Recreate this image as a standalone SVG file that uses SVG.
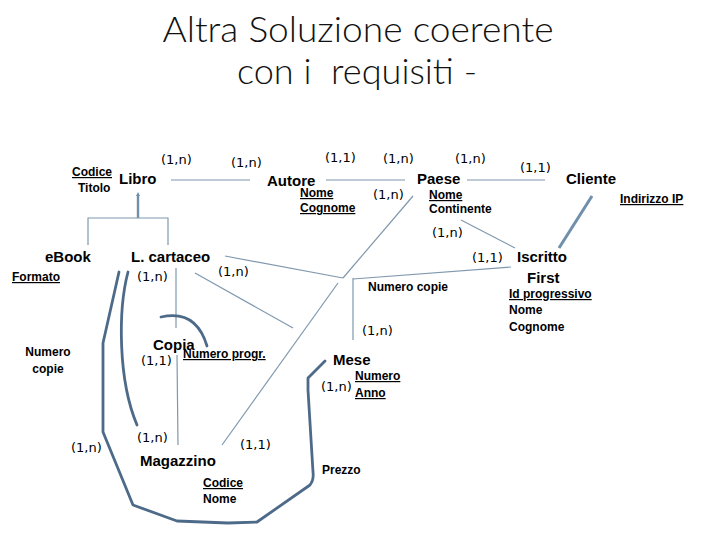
<svg xmlns="http://www.w3.org/2000/svg" width="720" height="540" viewBox="0 0 720 540">
<defs>
<style>
.title{font-family:"Lato","Open Sans","Liberation Sans",sans-serif;font-weight:300;font-size:36px;fill:#111;text-anchor:middle;white-space:pre}
.ent{font-family:"Liberation Sans",Arial,sans-serif;font-size:15px;font-weight:bold;fill:#000}
.att{font-family:"Liberation Sans",Arial,sans-serif;font-size:12px;font-weight:bold;fill:#000}
.u{text-decoration:underline}
.card{font-family:"DejaVu Sans",sans-serif;font-size:13px;fill:#000}
.thin{fill:none;stroke:#7f98ae;stroke-width:1.2}
.thick{fill:none;stroke:#4d6a88;stroke-width:2.8;stroke-linecap:round;stroke-linejoin:round}
</style>
<marker id="arr" markerWidth="4" markerHeight="4" refX="1" refY="2" orient="auto" markerUnits="userSpaceOnUse">
<path d="M0,0 L4,2 L0,4 z" fill="#6f8fab"/>
</marker>
</defs>
<rect width="720" height="540" fill="#fff"/>
<text class="title" x="358" y="42" textLength="391" lengthAdjust="spacingAndGlyphs">Altra Soluzione coerente</text>
<text class="title" x="357" y="84" xml:space="preserve" textLength="240" lengthAdjust="spacingAndGlyphs">con i  requisiti -</text>

<g id="connectors">
<line class="thin" x1="171" y1="180" x2="250" y2="180"/>
<line class="thin" x1="326" y1="180" x2="405" y2="180"/>
<line class="thin" x1="467" y1="180" x2="545" y2="180"/>
<path d="M138,218 L138,195" fill="none" stroke="#6f8fab" stroke-width="2.4" marker-end="url(#arr)"/>
<path class="thin" d="M88,245 L88,218 L168,218 L168,245"/>
<line x1="592" y1="196" x2="559" y2="248" stroke="#6f8fab" stroke-width="3"/>
<line class="thin" x1="461" y1="220" x2="515" y2="248"/>
<line class="thin" x1="511" y1="267" x2="353" y2="279"/>
<line class="thin" x1="225" y1="256" x2="343" y2="278"/>
<line class="thin" x1="413" y1="196" x2="343" y2="278"/>
<line class="thin" x1="353" y1="278" x2="353" y2="340"/>
<line class="thin" x1="338" y1="283" x2="222" y2="445"/>
<line class="thin" x1="195" y1="273" x2="293" y2="328"/>
<line class="thin" x1="176" y1="268" x2="176" y2="328"/>
<line class="thin" x1="177" y1="355" x2="178" y2="445"/>
<path class="thick" d="M161,317 Q196,309 207,346"/>
<path class="thick" d="M119,272 L103,343 L103,432 L133,505 L177,521 L228,523 L257,522 L310,485 Q314,480 313,472 L308,390 L308,378 L325,361"/>
<path class="thick" d="M128,272 C118,310 118,380 137,425"/>
</g>

<g id="libro">
<text class="ent" x="119" y="184">Libro</text>
<text class="att u" x="72" y="176" font-size="11">Codice</text>
<text class="att" x="78" y="192" font-size="11">Titolo</text>
<text class="card" x="161" y="164">(1,n)</text>
</g>
<g id="autore">
<text class="ent" x="267" y="186">Autore</text>
<text class="card" x="231" y="167">(1,n)</text>
<text class="card" x="325" y="162">(1,1)</text>
<text class="att u" x="300" y="197">Nome</text>
<text class="att u" x="300" y="212">Cognome</text>
</g>
<g id="paese">
<text class="ent" x="417" y="184">Paese</text>
<text class="card" x="383" y="163">(1,n)</text>
<text class="card" x="455" y="163">(1,n)</text>
<text class="card" x="373" y="199">(1,n)</text>
<text class="att u" x="429" y="199">Nome</text>
<text class="att" x="429" y="213">Continente</text>
<text class="card" x="432" y="237">(1,n)</text>
</g>
<g id="cliente">
<text class="ent" x="566" y="184">Cliente</text>
<text class="card" x="520" y="172">(1,1)</text>
<text class="att u" x="620" y="203" font-size="11">Indirizzo IP</text>
</g>
<g id="iscritto">
<text class="ent" x="517" y="262">Iscritto</text>
<text class="ent" x="527" y="283">First</text>
<text class="card" x="472" y="262">(1,1)</text>
<text class="att u" x="509" y="298">Id progressivo</text>
<text class="att" x="509" y="314">Nome</text>
<text class="att" x="509" y="331">Cognome</text>
</g>
<g id="ebook">
<text class="ent" x="45" y="262">eBook</text>
<text class="att u" x="12" y="281">Formato</text>
<text class="att" x="48" y="356" text-anchor="middle">Numero</text>
<text class="att" x="48" y="373" text-anchor="middle">copie</text>
<text class="card" x="71" y="452">(1,n)</text>
</g>
<g id="cartaceo">
<text class="ent" x="131" y="262">L. cartaceo</text>
<text class="card" x="137" y="281">(1,n)</text>
<text class="card" x="218" y="276">(1,n)</text>
</g>
<g id="numerocopie">
<text class="att" x="368" y="291">Numero copie</text>
<text class="card" x="362" y="335">(1,n)</text>
</g>
<g id="copia">
<text class="ent" x="153" y="350">Copia</text>
<text class="card" x="141" y="365">(1,1)</text>
<text class="att u" x="183" y="358">Numero progr.</text>
</g>
<g id="mese">
<text class="ent" x="333" y="365">Mese</text>
<text class="att u" x="355" y="380">Numero</text>
<text class="att u" x="355" y="397">Anno</text>
<text class="card" x="321" y="391">(1,n)</text>
</g>
<g id="magazzino">
<text class="ent" x="140" y="466">Magazzino</text>
<text class="card" x="137" y="442">(1,n)</text>
<text class="card" x="240" y="449">(1,1)</text>
<text class="att u" x="203" y="487">Codice</text>
<text class="att" x="203" y="503">Nome</text>
</g>
<g id="prezzo">
<text class="att" x="322" y="474">Prezzo</text>
</g>
</svg>
